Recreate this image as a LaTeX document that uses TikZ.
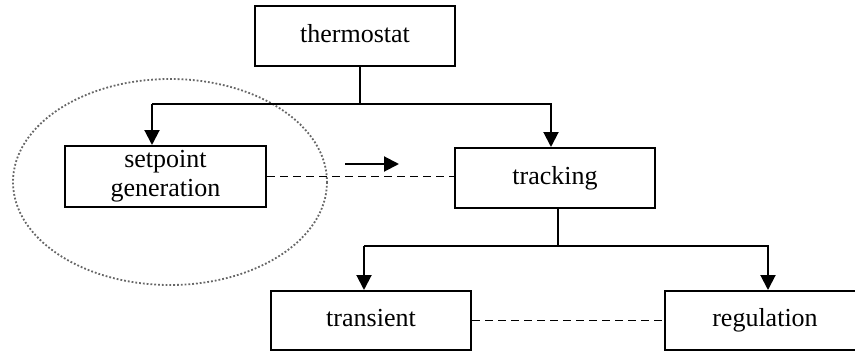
\documentclass[tikz,border=0pt]{standalone}
\usepackage{fontspec}
\setmainfont{Liberation Serif}
\usetikzlibrary{arrows.meta}
\begin{document}
\begin{tikzpicture}[x=1pt,y=-1pt,
  box/.style={draw,line width=2pt,minimum width=200pt,minimum height=60pt,inner sep=0pt,
    font=\fontsize{26}{29}\selectfont,align=center},
  one/.style={text height=18pt,text depth=6pt},
  link/.style={line width=2pt},
  arr/.style={line width=2pt,-{Triangle[width=15pt,length=15pt]}},
  dashlink/.style={line width=1.8pt,dash pattern=on 8pt off 5pt}]
\useasboundingbox (0,0) rectangle (855,356);
\clip (0,0) rectangle (855,356);
% ellipse
\draw[gray!80!black,line width=1.8pt,dotted] (170,182) ellipse [x radius=157,y radius=103];
% nodes
\node[box,one] (thermo) at (355,36) {thermostat};
\node[box,minimum width=201pt,minimum height=61pt] (setp) at (165.5,176.5) {setpoint\\generation};
\node[box,one] (track) at (555,178) {tracking};
\node[box,one,minimum height=59pt] (trans) at (371,320.5) {transient};
\node[box,one,minimum height=59pt] (reg) at (765,320.5) {regulation};
% junctions
\coordinate (j1) at (360,104);
\coordinate (a1) at (152,104);
\coordinate (a2) at (551,104);
\coordinate (j2) at (558,246);
\coordinate (a3) at (364,246);
\coordinate (a4) at (768,246);
\draw[link] (thermo.south -| j1) -- (j1);
\draw[arr] (a1) -- (a2) -- (a2 |- track.north);
\draw[arr] (a1) -- (a1 |- setp.north);
\draw[link] (track.south -| j2) -- (j2);
\draw[arr] (a3) -- (a4) -- (a4 |- reg.north);
\draw[arr] (a3) -- (a3 |- trans.north);
% dashed links
\draw[dashlink] (setp.east) -- (setp.east -| track.west);
\draw[dashlink] (trans.east) -- (trans.east -| reg.west);
% small arrow
\coordinate (s1) at (345,164);
\coordinate (s2) at (399,164);
\draw[arr] (s1) -- (s2);
\end{tikzpicture}
\end{document}
